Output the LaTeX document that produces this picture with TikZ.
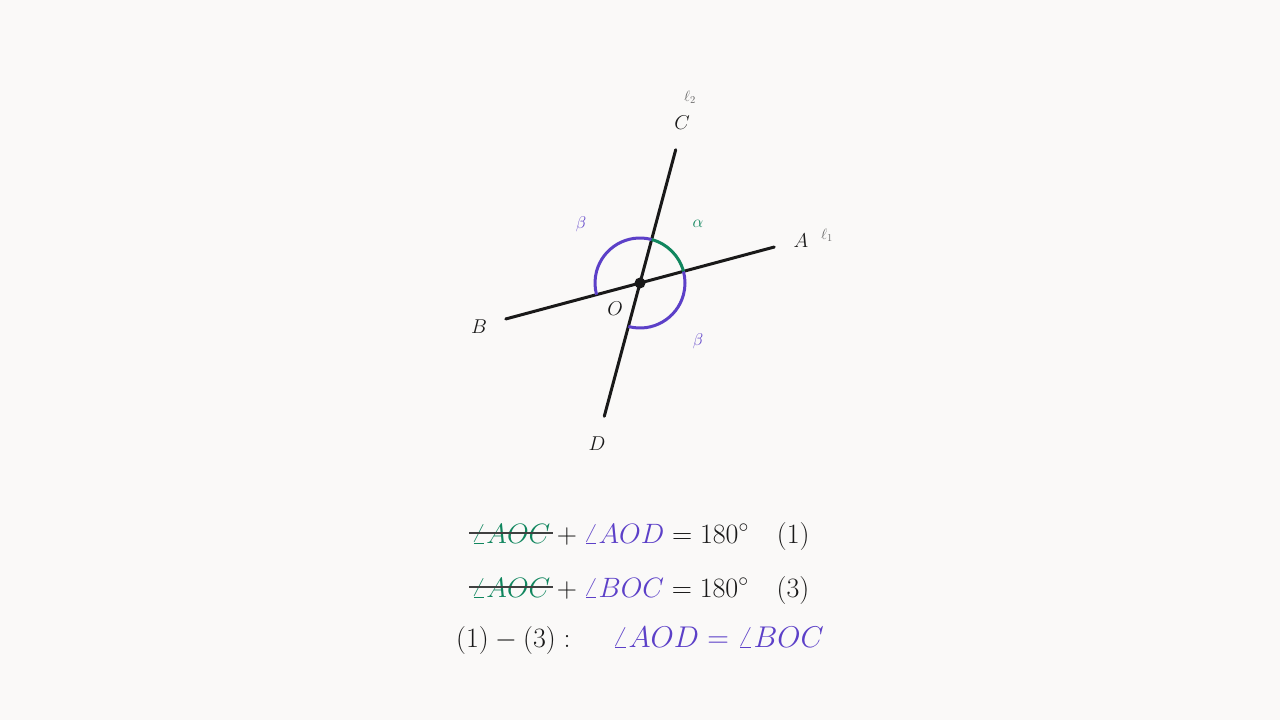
\RequirePackage{fix-cm}
\documentclass[tikz,border=0pt]{standalone}
\definecolor{bg}{RGB}{250,249,248}
\definecolor{grn}{RGB}{16,134,94}
\definecolor{pur}{RGB}{92,64,200}
\definecolor{ink}{RGB}{25,25,25}
\tikzset{
  lineseg/.style={ink, line width=3pt, line cap=round},
  pt/.style={font=\fontsize{20}{24}\selectfont, text=ink, inner sep=0pt},
  greek/.style={font=\fontsize{17}{20}\selectfont, inner sep=0pt},
  ell/.style={font=\fontsize{15}{18}\selectfont, text=black!60, inner sep=0pt},
  eq/.style={font=\fontsize{28}{32}\selectfont, text=ink, inner sep=0pt},
  eqbig/.style={font=\fontsize{30}{34}\selectfont, text=pur, inner sep=0pt},
  strike/.style={black!75, line width=1.8pt},
}
\begin{document}
\begin{tikzpicture}[x=1pt,y=1pt]
\fill[bg] (0,0) rectangle (1280,-720);
\useasboundingbox (0,0) rectangle (1280,-720);
\coordinate (O) at (640,-283);
\coordinate (A) at ([shift={(15:139)}]O);
\coordinate (B) at ([shift={(195:139)}]O);
\coordinate (C) at ([shift={(75:138)}]O);
\coordinate (D) at ([shift={(255:138)}]O);
\draw[lineseg] (B) -- (A);
\draw[lineseg] (D) -- (C);
\draw[pur, line width=3pt] ([shift={(75:45)}]O) arc[start angle=75, end angle=195, radius=45];
\draw[pur, line width=3pt] ([shift={(255:45)}]O) arc[start angle=255, end angle=375, radius=45];
\draw[grn, line width=3pt] ([shift={(15:45)}]O) arc[start angle=15, end angle=75, radius=45];
\fill[ink] (O) circle (5.5);
\node[pt] (lA) at (801,-241) {$A$};
\node[pt] (lB) at (479,-327) {$B$};
\node[pt] (lC) at (682,-123) {$C$};
\node[pt] (lD) at (597,-444) {$D$};
\node[pt] (lO) at (615,-309) {$O$};
\node[ell] (l1) at (827,-235) {$\ell_1$};
\node[ell] (l2) at (690,-97) {$\ell_2$};
\node[greek, text=grn] (al) at (698,-224) {$\alpha$};
\node[greek, text=pur] (b1) at (581,-224) {$\beta$};
\node[greek, text=pur] (b2) at (698,-341) {$\beta$};
% row 1
\node[eq, anchor=base west, text=grn] (r1a) at (471,-543) {$\angle AOC$};
\node[eq, anchor=base west] (r1b) at (r1a.base east) {$\mathord{}+{\color{pur}\angle AOD}=180^\circ\quad(1)$};
\draw[strike] ([xshift=-2pt,yshift=10pt]r1a.base west) -- ([xshift=2pt,yshift=10pt]r1a.base east);
% row 2
\node[eq, anchor=base west, text=grn] (r2a) at (471,-597) {$\angle AOC$};
\node[eq, anchor=base west] (r2b) at (r2a.base east) {$\mathord{}+{\color{pur}\angle BOC}=180^\circ\quad(3)$};
\draw[strike] ([xshift=-2pt,yshift=10pt]r2a.base west) -- ([xshift=2pt,yshift=10pt]r2a.base east);
% row 3
\node[eq, anchor=base west] (r3a) at (456,-647) {$(1)-(3):$};
\node[eqbig, anchor=base west] (r3b) at (612,-647) {$\angle AOD=\angle BOC$};
\end{tikzpicture}
\end{document}
